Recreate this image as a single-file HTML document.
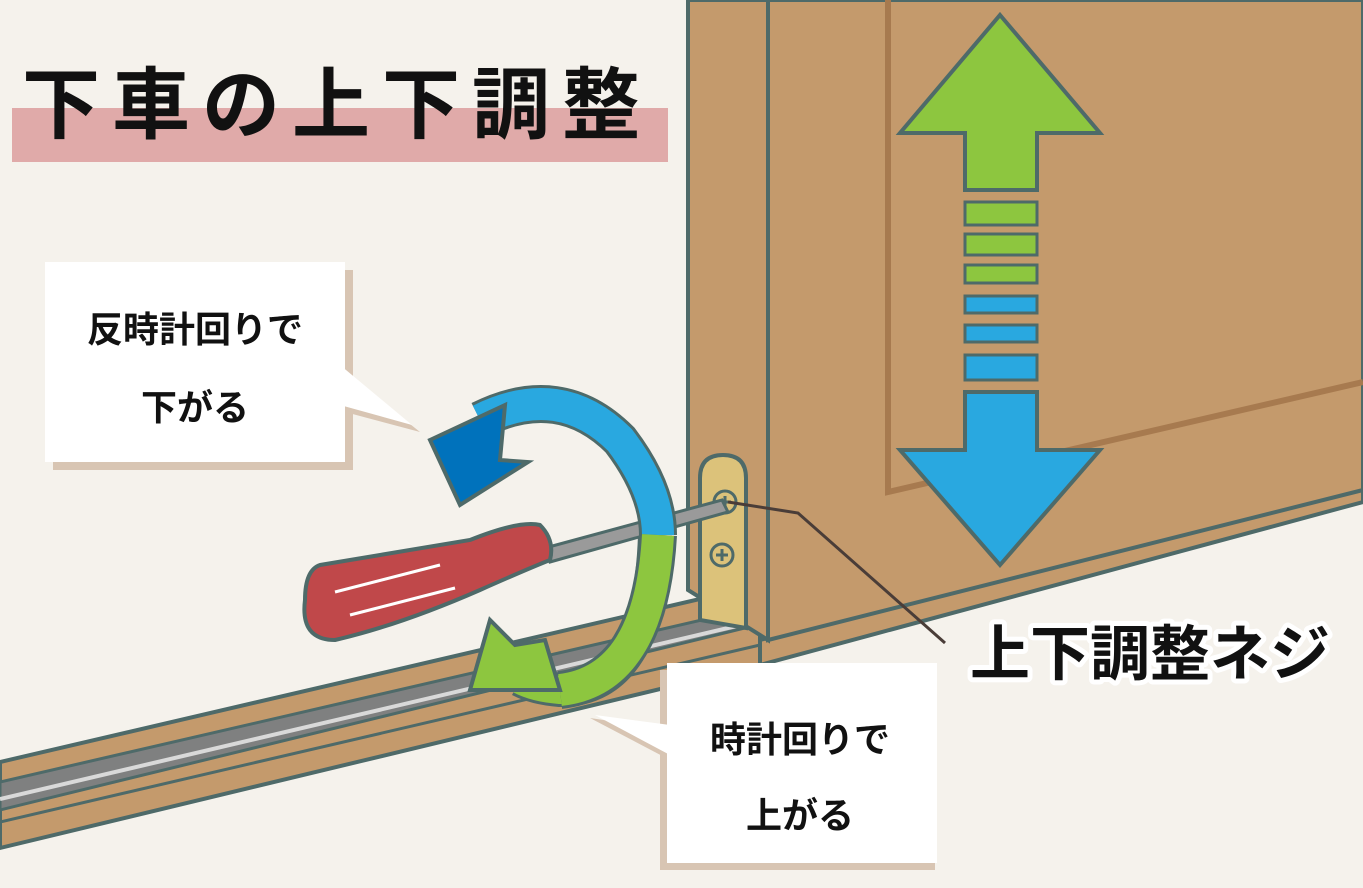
<!DOCTYPE html>
<html><head><meta charset="utf-8"><style>
html,body{margin:0;padding:0;background:#f5f2ec;}
svg{display:block}
text{font-family:"Liberation Sans","Noto Sans CJK JP",sans-serif;font-weight:bold;}
</style></head><body>
<svg width="1363" height="888" viewBox="0 0 1363 888" xmlns="http://www.w3.org/2000/svg">
<rect width="1363" height="888" fill="#f5f2ec"/>
<!-- floor rail left -->
<polygon points="0,762 760,585 760,665 0,848" fill="#c49a6c" stroke="#4e6a69" stroke-width="4"/>
<polygon points="0,782 745,610 745,628 0,810" fill="#7f8080" stroke="#4e6a69" stroke-width="3"/>
<line x1="0" y1="799" x2="745" y2="624" stroke="#d9d9d9" stroke-width="4"/>
<line x1="0" y1="822" x2="760" y2="645" stroke="#4e6a69" stroke-width="3"/>
<!-- right strip -->
<polygon points="760,640 1363,488 1363,502 760,665" fill="#c49a6c" stroke="#4e6a69" stroke-width="4"/>
<!-- door -->
<polygon points="688,0 768,0 768,640 688,590" fill="#c49a6c" stroke="#4e6a69" stroke-width="4"/>
<polygon points="768,0 1363,0 1363,490 768,640" fill="#c49a6c" stroke="#4e6a69" stroke-width="4"/>
<polyline points="888,0 888,492 1363,382" fill="none" stroke="#a77a4f" stroke-width="6"/>
<!-- bracket -->
<path d="M700,620 L700,478 Q700,455 723,455 Q746,455 746,478 L746,628 Z" fill="#dcc27a" stroke="#4e6a69" stroke-width="4"/>
<circle cx="725" cy="502" r="11" fill="#dcc27a" stroke="#4e6a69" stroke-width="3"/>
<circle cx="722" cy="555" r="11" fill="#dcc27a" stroke="#4e6a69" stroke-width="3"/>
<path d="M716,555h12M722,549v12M719,502h12M725,496v12" stroke="#4e6a69" stroke-width="3"/>
<!-- leader line -->
<polyline points="728,502 798,513 945,643" fill="none" stroke="#4a3d38" stroke-width="3"/>
<!-- ring back -->
<path d="M655,535 Q650,690 560,690 Q535,688 520,680" fill="none" stroke="#4e6a69" stroke-width="34"/>
<path d="M655,535 Q650,690 560,690 Q535,688 520,680" fill="none" stroke="#8dc63f" stroke-width="28"/>
<!-- screwdriver -->
<polygon points="545,548 722,500 728,512 550,562" fill="#9a9a9a" stroke="#4e6a69" stroke-width="3"/>
<path d="M320,565 Q380,555 470,540 Q520,520 540,525 Q555,540 550,560 Q525,570 480,590 Q400,625 335,640 Q300,640 305,600 Q305,570 320,565 Z" fill="#c0484a" stroke="#4e6a69" stroke-width="4"/>
<line x1="335" y1="592" x2="440" y2="565" stroke="#fff" stroke-width="3"/>
<line x1="350" y1="615" x2="455" y2="588" stroke="#fff" stroke-width="3"/>
<!-- ring front -->
<path d="M480,420 Q560,380 620,440 Q658,490 658,535" fill="none" stroke="#4e6a69" stroke-width="38"/>
<path d="M480,420 Q560,380 620,440 Q658,490 658,535" fill="none" stroke="#29a8e0" stroke-width="32"/>
<path d="M658,535 Q650,680 560,690" fill="none" stroke="#4e6a69" stroke-width="38"/>
<path d="M658,535 Q650,680 560,690" fill="none" stroke="#8dc63f" stroke-width="32"/>
<polygon points="430,440 505,405 500,460 528,462 460,505" fill="#0072bc" stroke="#4e6a69" stroke-width="4"/>
<polygon points="470,690 490,620 515,645 545,640 560,690" fill="#8dc63f" stroke="#4e6a69" stroke-width="4"/>
<!-- up/down arrow -->
<polygon points="1000,15 1100,133 1037,133 1037,190 965,190 965,133 900,133" fill="#8dc63f" stroke="#4e6a69" stroke-width="4"/>
<g stroke="#4e6a69" stroke-width="3">
<rect x="965" y="202" width="72" height="23" fill="#8dc63f"/>
<rect x="965" y="234" width="72" height="21" fill="#8dc63f"/>
<rect x="965" y="265" width="72" height="18" fill="#8dc63f"/>
<rect x="965" y="296" width="72" height="17" fill="#29a8e0"/>
<rect x="965" y="325" width="72" height="17" fill="#29a8e0"/>
<rect x="965" y="355" width="72" height="25" fill="#29a8e0"/>
</g>
<polygon points="965,392 1037,392 1037,450 1100,450 1000,565 900,450 965,450" fill="#29a8e0" stroke="#4e6a69" stroke-width="4"/>
<!-- title -->
<rect x="12" y="108" width="656" height="54" fill="#e0aaa9"/>
<text x="22" y="132" font-size="78" fill="#111" letter-spacing="12">下車の上下調整</text>
<!-- callout 1 -->
<rect x="53" y="270" width="300" height="200" fill="#d8c5b3"/>
<polygon points="345,372 420,432 345,412" fill="#d8c5b3"/>
<rect x="45" y="262" width="300" height="200" fill="#fff"/>
<polygon points="340,365 412,425 340,405" fill="#fff"/>
<text x="195" y="342" font-size="36" fill="#111" text-anchor="middle">反時計回りで</text>
<text x="195" y="420" font-size="36" fill="#111" text-anchor="middle">下がる</text>
<!-- callout 2 -->
<polygon points="670,760 590,718 670,730" fill="#d8c5b3"/>
<rect x="660" y="670" width="275" height="200" fill="#d8c5b3"/>
<rect x="667" y="663" width="270" height="200" fill="#fff"/>
<polygon points="670,755 595,715 670,725" fill="#fff"/>
<text x="800" y="752" font-size="36" fill="#111" text-anchor="middle">時計回りで</text>
<text x="800" y="828" font-size="36" fill="#111" text-anchor="middle">上がる</text>
<!-- label -->
<text x="1150" y="675" font-size="60" fill="#111" text-anchor="middle" stroke="#fff" stroke-width="10" paint-order="stroke" stroke-linejoin="round">上下調整ネジ</text>
</svg>
</body></html>
